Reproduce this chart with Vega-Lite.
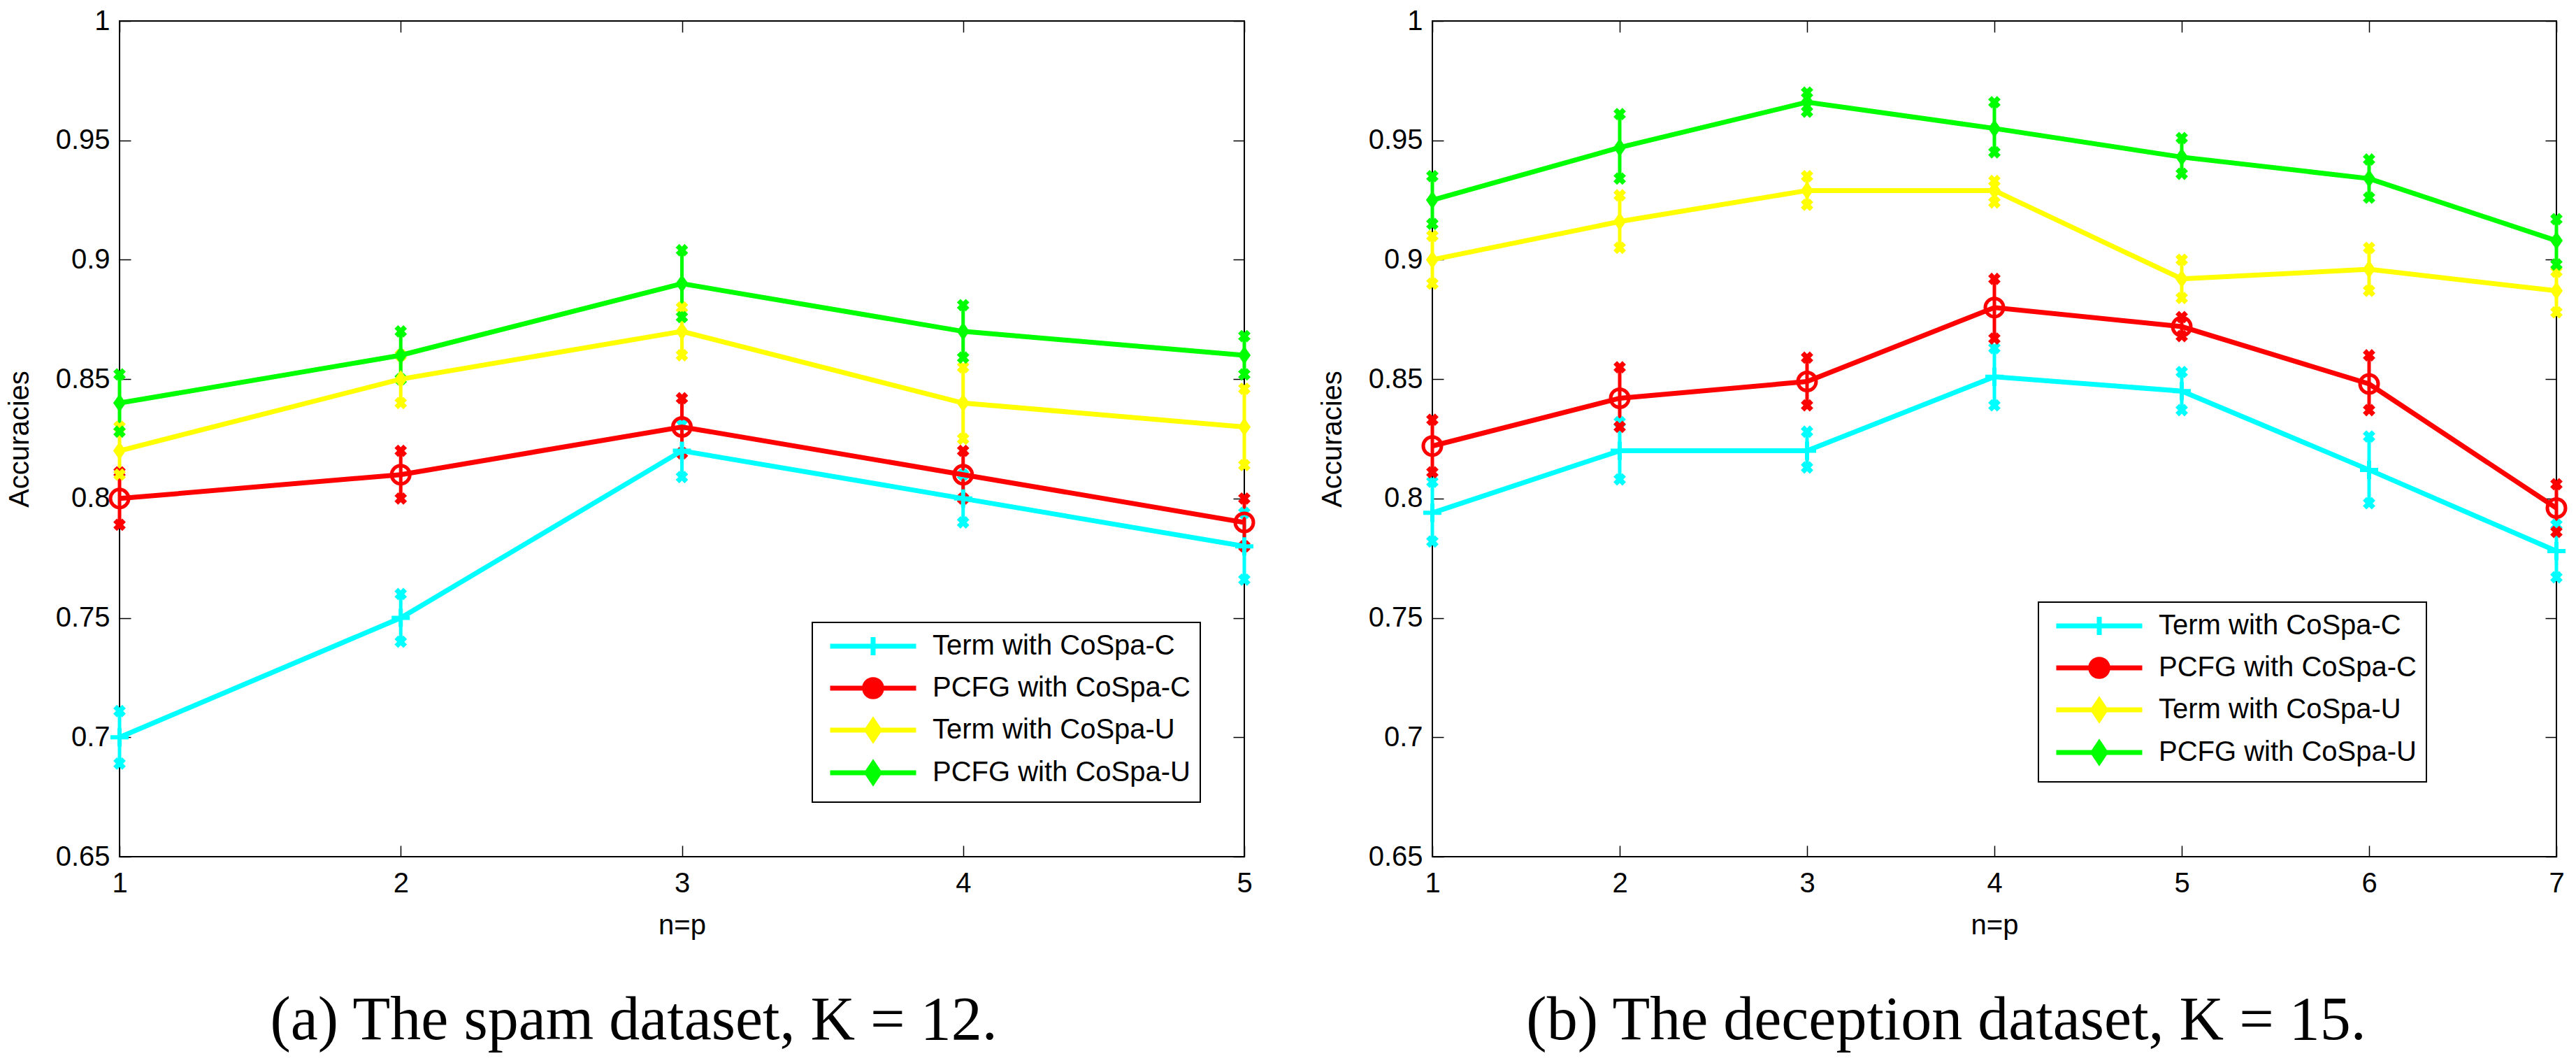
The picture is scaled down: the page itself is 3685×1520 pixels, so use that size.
{
  "$schema": "https://vega.github.io/schema/vega-lite/v6.json",
  "background": "white",
  "padding": {"left": 7, "top": 9, "right": 0, "bottom": 0},
  "spacing": 79,
  "resolve": {"scale": {"color": "independent"}},
  "hconcat": [
    {
      "width": 1609,
      "height": 1195,
      "title": {"text": "(a) The spam dataset, K = 12."},
      "data": {
        "values": [
          {"series": "Term with CoSpa-C", "n": 1, "acc": 0.70, "lo": 0.689, "hi": 0.711},
          {"series": "Term with CoSpa-C", "n": 2, "acc": 0.75, "lo": 0.740, "hi": 0.760},
          {"series": "Term with CoSpa-C", "n": 3, "acc": 0.82, "lo": 0.809, "hi": 0.831},
          {"series": "Term with CoSpa-C", "n": 4, "acc": 0.80, "lo": 0.790, "hi": 0.810},
          {"series": "Term with CoSpa-C", "n": 5, "acc": 0.78, "lo": 0.766, "hi": 0.794},
          {"series": "PCFG with CoSpa-C", "n": 1, "acc": 0.80, "lo": 0.789, "hi": 0.811},
          {"series": "PCFG with CoSpa-C", "n": 2, "acc": 0.81, "lo": 0.800, "hi": 0.820},
          {"series": "PCFG with CoSpa-C", "n": 3, "acc": 0.83, "lo": 0.819, "hi": 0.842},
          {"series": "PCFG with CoSpa-C", "n": 4, "acc": 0.81, "lo": 0.800, "hi": 0.820},
          {"series": "PCFG with CoSpa-C", "n": 5, "acc": 0.79, "lo": 0.780, "hi": 0.800},
          {"series": "Term with CoSpa-U", "n": 1, "acc": 0.82, "lo": 0.810, "hi": 0.830},
          {"series": "Term with CoSpa-U", "n": 2, "acc": 0.85, "lo": 0.840, "hi": 0.860},
          {"series": "Term with CoSpa-U", "n": 3, "acc": 0.87, "lo": 0.860, "hi": 0.880},
          {"series": "Term with CoSpa-U", "n": 4, "acc": 0.84, "lo": 0.825, "hi": 0.855},
          {"series": "Term with CoSpa-U", "n": 5, "acc": 0.83, "lo": 0.814, "hi": 0.846},
          {"series": "PCFG with CoSpa-U", "n": 1, "acc": 0.84, "lo": 0.828, "hi": 0.852},
          {"series": "PCFG with CoSpa-U", "n": 2, "acc": 0.86, "lo": 0.850, "hi": 0.870},
          {"series": "PCFG with CoSpa-U", "n": 3, "acc": 0.89, "lo": 0.876, "hi": 0.904},
          {"series": "PCFG with CoSpa-U", "n": 4, "acc": 0.87, "lo": 0.859, "hi": 0.881},
          {"series": "PCFG with CoSpa-U", "n": 5, "acc": 0.86, "lo": 0.852, "hi": 0.868}
        ]
      },
      "layer": [
        {
          "mark": {"type": "rule", "strokeWidth": 5},
          "encoding": {
            "x": {"field": "n", "type": "quantitative", "scale": {"domain": [1, 5], "nice": false, "zero": false}, "axis": null},
            "y": {"field": "lo", "type": "quantitative", "scale": {"domain": [0.65, 1], "nice": false, "zero": false}, "axis": null},
            "y2": {"field": "hi"},
            "color": {
              "field": "series",
              "type": "nominal",
              "scale": {
                "domain": ["Term with CoSpa-C", "PCFG with CoSpa-C", "Term with CoSpa-U", "PCFG with CoSpa-U"],
                "range": ["#00ffff", "#ff0000", "#ffff00", "#00ff00"]
              }
            }
          }
        },
        {
          "transform": [{"fold": ["lo", "hi"], "as": ["end", "val"]}],
          "mark": {"type": "point", "shape": "cross", "angle": 45, "filled": true, "size": 324, "opacity": 1},
          "encoding": {
            "x": {"field": "n", "type": "quantitative", "axis": null},
            "y": {"field": "val", "type": "quantitative", "axis": null},
            "color": {"field": "series", "type": "nominal"}
          }
        },
        {
          "mark": {"type": "line", "strokeWidth": 7},
          "encoding": {
            "x": {"field": "n", "type": "quantitative", "axis": {"orient": "bottom", "title": "n=p", "values": [1, 2, 3, 4, 5], "format": "d"}},
            "y": {"field": "acc", "type": "quantitative", "axis": {"orient": "left", "title": "Accuracies", "values": [0.65, 0.7, 0.75, 0.8, 0.85, 0.9, 0.95, 1], "format": "~g"}},
            "color": {
              "field": "series",
              "type": "nominal",
              "legend": {
                "title": null,
                "orient": "none",
                "legendX": 991,
                "legendY": 860,
                "encode": {
                  "symbols": {
                    "update": {
                      "shape": [
                        {"test": "datum.value === 'Term with CoSpa-C'", "value": "M-4.1,0L4.1,0M0,-0.87L0,0.87"},
                        {"test": "datum.value === 'PCFG with CoSpa-C'", "value": "M-4.1,0L-0.82,0M0.82,0L4.1,0M-0.82,0A0.82,0.82 0 1,0 0.82,0A0.82,0.82 0 1,0 -0.82,0M-0.82,0L0.82,0"},
                        {"value": "M-4.1,0L4.1,0M0,-0.9L0.6,0L0,0.9L-0.6,0Z"}
                      ],
                      "fill": [
                        {"test": "datum.value === 'Term with CoSpa-U'", "value": "#ffff00"},
                        {"test": "datum.value === 'PCFG with CoSpa-U'", "value": "#00ff00"},
                        {"value": "transparent"}
                      ]
                    }
                  },
                  "legend": {"update": {"strokeWidth": {"value": 2}}}
                }
              }
            }
          }
        },
        {
          "transform": [{"filter": "datum.series === 'Term with CoSpa-C'"}],
          "mark": {"type": "point", "shape": "M-1,0L1,0M0,-1L0,1", "filled": false, "strokeWidth": 6, "size": 676, "opacity": 1},
          "encoding": {
            "x": {"field": "n", "type": "quantitative", "axis": {"orient": "top", "title": null, "labels": false, "values": [1, 2, 3, 4, 5]}},
            "y": {"field": "acc", "type": "quantitative", "axis": {"orient": "right", "title": null, "labels": false, "values": [0.65, 0.7, 0.75, 0.8, 0.85, 0.9, 0.95, 1]}},
            "color": {"field": "series", "type": "nominal"}
          }
        },
        {
          "transform": [{"filter": "datum.series === 'PCFG with CoSpa-C'"}],
          "mark": {"type": "point", "shape": "circle", "filled": false, "strokeWidth": 5, "size": 676, "opacity": 1},
          "encoding": {
            "x": {"field": "n", "type": "quantitative", "axis": null},
            "y": {"field": "acc", "type": "quantitative", "axis": null},
            "color": {"field": "series", "type": "nominal"}
          }
        },
        {
          "transform": [{"filter": "datum.series === 'Term with CoSpa-U' || datum.series === 'PCFG with CoSpa-U'"}],
          "mark": {"type": "point", "shape": "M0,-1L0.7,0L0,1L-0.7,0Z", "filled": true, "size": 676, "opacity": 1},
          "encoding": {
            "x": {"field": "n", "type": "quantitative", "axis": null},
            "y": {"field": "acc", "type": "quantitative", "axis": null},
            "color": {"field": "series", "type": "nominal"}
          }
        }
      ]
    },
    {
      "width": 1608,
      "height": 1195,
      "title": {"text": "(b) The deception dataset, K = 15."},
      "data": {
        "values": [
          {"series": "Term with CoSpa-C", "n": 1, "acc": 0.794, "lo": 0.782, "hi": 0.807},
          {"series": "Term with CoSpa-C", "n": 2, "acc": 0.820, "lo": 0.808, "hi": 0.832},
          {"series": "Term with CoSpa-C", "n": 3, "acc": 0.820, "lo": 0.813, "hi": 0.828},
          {"series": "Term with CoSpa-C", "n": 4, "acc": 0.851, "lo": 0.839, "hi": 0.863},
          {"series": "Term with CoSpa-C", "n": 5, "acc": 0.845, "lo": 0.837, "hi": 0.853},
          {"series": "Term with CoSpa-C", "n": 6, "acc": 0.812, "lo": 0.798, "hi": 0.826},
          {"series": "Term with CoSpa-C", "n": 7, "acc": 0.778, "lo": 0.767, "hi": 0.789},
          {"series": "PCFG with CoSpa-C", "n": 1, "acc": 0.822, "lo": 0.811, "hi": 0.833},
          {"series": "PCFG with CoSpa-C", "n": 2, "acc": 0.842, "lo": 0.830, "hi": 0.855},
          {"series": "PCFG with CoSpa-C", "n": 3, "acc": 0.849, "lo": 0.839, "hi": 0.859},
          {"series": "PCFG with CoSpa-C", "n": 4, "acc": 0.880, "lo": 0.867, "hi": 0.892},
          {"series": "PCFG with CoSpa-C", "n": 5, "acc": 0.872, "lo": 0.868, "hi": 0.876},
          {"series": "PCFG with CoSpa-C", "n": 6, "acc": 0.848, "lo": 0.837, "hi": 0.860},
          {"series": "PCFG with CoSpa-C", "n": 7, "acc": 0.796, "lo": 0.786, "hi": 0.806},
          {"series": "Term with CoSpa-U", "n": 1, "acc": 0.900, "lo": 0.890, "hi": 0.910},
          {"series": "Term with CoSpa-U", "n": 2, "acc": 0.916, "lo": 0.905, "hi": 0.927},
          {"series": "Term with CoSpa-U", "n": 3, "acc": 0.929, "lo": 0.923, "hi": 0.935},
          {"series": "Term with CoSpa-U", "n": 4, "acc": 0.929, "lo": 0.924, "hi": 0.933},
          {"series": "Term with CoSpa-U", "n": 5, "acc": 0.892, "lo": 0.884, "hi": 0.900},
          {"series": "Term with CoSpa-U", "n": 6, "acc": 0.896, "lo": 0.887, "hi": 0.905},
          {"series": "Term with CoSpa-U", "n": 7, "acc": 0.887, "lo": 0.878, "hi": 0.895},
          {"series": "PCFG with CoSpa-U", "n": 1, "acc": 0.925, "lo": 0.915, "hi": 0.935},
          {"series": "PCFG with CoSpa-U", "n": 2, "acc": 0.947, "lo": 0.934, "hi": 0.961},
          {"series": "PCFG with CoSpa-U", "n": 3, "acc": 0.966, "lo": 0.962, "hi": 0.970},
          {"series": "PCFG with CoSpa-U", "n": 4, "acc": 0.955, "lo": 0.945, "hi": 0.966},
          {"series": "PCFG with CoSpa-U", "n": 5, "acc": 0.943, "lo": 0.936, "hi": 0.951},
          {"series": "PCFG with CoSpa-U", "n": 6, "acc": 0.934, "lo": 0.926, "hi": 0.942},
          {"series": "PCFG with CoSpa-U", "n": 7, "acc": 0.908, "lo": 0.898, "hi": 0.917}
        ]
      },
      "layer": [
        {
          "mark": {"type": "rule", "strokeWidth": 5},
          "encoding": {
            "x": {"field": "n", "type": "quantitative", "scale": {"domain": [1, 7], "nice": false, "zero": false}, "axis": null},
            "y": {"field": "lo", "type": "quantitative", "scale": {"domain": [0.65, 1], "nice": false, "zero": false}, "axis": null},
            "y2": {"field": "hi"},
            "color": {
              "field": "series",
              "type": "nominal",
              "scale": {
                "domain": ["Term with CoSpa-C", "PCFG with CoSpa-C", "Term with CoSpa-U", "PCFG with CoSpa-U"],
                "range": ["#00ffff", "#ff0000", "#ffff00", "#00ff00"]
              }
            }
          }
        },
        {
          "transform": [{"fold": ["lo", "hi"], "as": ["end", "val"]}],
          "mark": {"type": "point", "shape": "cross", "angle": 45, "filled": true, "size": 324, "opacity": 1},
          "encoding": {
            "x": {"field": "n", "type": "quantitative", "axis": null},
            "y": {"field": "val", "type": "quantitative", "axis": null},
            "color": {"field": "series", "type": "nominal"}
          }
        },
        {
          "mark": {"type": "line", "strokeWidth": 7},
          "encoding": {
            "x": {"field": "n", "type": "quantitative", "axis": {"orient": "bottom", "title": "n=p", "values": [1, 2, 3, 4, 5, 6, 7], "format": "d"}},
            "y": {"field": "acc", "type": "quantitative", "axis": {"orient": "left", "title": "Accuracies", "values": [0.65, 0.7, 0.75, 0.8, 0.85, 0.9, 0.95, 1], "format": "~g"}},
            "color": {
              "field": "series",
              "type": "nominal",
              "legend": {
                "title": null,
                "orient": "none",
                "legendX": 867,
                "legendY": 831,
                "encode": {
                  "symbols": {
                    "update": {
                      "shape": [
                        {"test": "datum.value === 'Term with CoSpa-C'", "value": "M-4.1,0L4.1,0M0,-0.87L0,0.87"},
                        {"test": "datum.value === 'PCFG with CoSpa-C'", "value": "M-4.1,0L-0.82,0M0.82,0L4.1,0M-0.82,0A0.82,0.82 0 1,0 0.82,0A0.82,0.82 0 1,0 -0.82,0M-0.82,0L0.82,0"},
                        {"value": "M-4.1,0L4.1,0M0,-0.9L0.6,0L0,0.9L-0.6,0Z"}
                      ],
                      "fill": [
                        {"test": "datum.value === 'Term with CoSpa-U'", "value": "#ffff00"},
                        {"test": "datum.value === 'PCFG with CoSpa-U'", "value": "#00ff00"},
                        {"value": "transparent"}
                      ]
                    }
                  },
                  "legend": {"update": {"strokeWidth": {"value": 2}}}
                }
              }
            }
          }
        },
        {
          "transform": [{"filter": "datum.series === 'Term with CoSpa-C'"}],
          "mark": {"type": "point", "shape": "M-1,0L1,0M0,-1L0,1", "filled": false, "strokeWidth": 6, "size": 676, "opacity": 1},
          "encoding": {
            "x": {"field": "n", "type": "quantitative", "axis": {"orient": "top", "title": null, "labels": false, "values": [1, 2, 3, 4, 5, 6, 7]}},
            "y": {"field": "acc", "type": "quantitative", "axis": {"orient": "right", "title": null, "labels": false, "values": [0.65, 0.7, 0.75, 0.8, 0.85, 0.9, 0.95, 1]}},
            "color": {"field": "series", "type": "nominal"}
          }
        },
        {
          "transform": [{"filter": "datum.series === 'PCFG with CoSpa-C'"}],
          "mark": {"type": "point", "shape": "circle", "filled": false, "strokeWidth": 5, "size": 676, "opacity": 1},
          "encoding": {
            "x": {"field": "n", "type": "quantitative", "axis": null},
            "y": {"field": "acc", "type": "quantitative", "axis": null},
            "color": {"field": "series", "type": "nominal"}
          }
        },
        {
          "transform": [{"filter": "datum.series === 'Term with CoSpa-U' || datum.series === 'PCFG with CoSpa-U'"}],
          "mark": {"type": "point", "shape": "M0,-1L0.7,0L0,1L-0.7,0Z", "filled": true, "size": 676, "opacity": 1},
          "encoding": {
            "x": {"field": "n", "type": "quantitative", "axis": null},
            "y": {"field": "acc", "type": "quantitative", "axis": null},
            "color": {"field": "series", "type": "nominal"}
          }
        }
      ]
    }
  ],
  "config": {
    "view": {"stroke": "black", "strokeWidth": 2},
    "font": "Liberation Sans",
    "axis": {
      "labelFont": "Liberation Sans",
      "labelFontSize": 40,
      "labelColor": "black",
      "titleFont": "Liberation Sans",
      "titleFontSize": 40,
      "titleFontWeight": "normal",
      "titleColor": "black",
      "tickColor": "black",
      "tickWidth": 1.5,
      "tickSize": -16,
      "domain": false,
      "grid": false,
      "labelFlush": false,
      "labelOverlap": false
    },
    "axisX": {"labelPadding": 34, "titlePadding": 20},
    "axisY": {"labelPadding": 30, "titlePadding": 31},
    "legend": {
      "labelFont": "Liberation Sans",
      "labelFontSize": 40,
      "labelColor": "black",
      "labelLimit": 1000,
      "strokeColor": "black",
      "fillColor": "white",
      "padding": 14,
      "rowPadding": 5,
      "symbolSize": 900,
      "symbolStrokeWidth": 7,
      "symbolOffset": 53,
      "labelOffset": 65
    },
    "title": {
      "font": "Liberation Serif",
      "fontSize": 88,
      "fontWeight": "normal",
      "color": "black",
      "orient": "bottom",
      "anchor": "middle",
      "frame": "bounds",
      "offset": 73
    }
  }
}
